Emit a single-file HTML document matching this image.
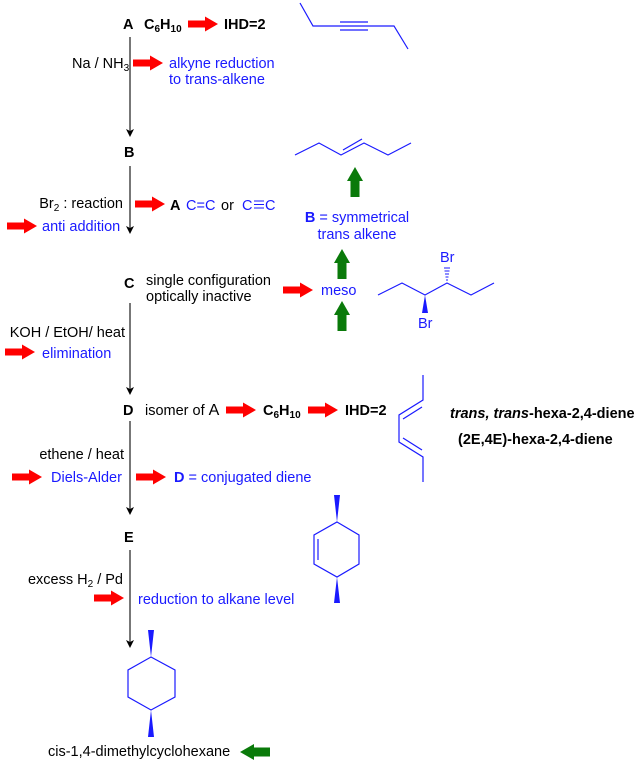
<!DOCTYPE html>
<html><head><meta charset="utf-8"><style>
html,body{margin:0;padding:0;background:#fff;}
svg{display:block;}
text{font-family:"Liberation Sans",Arial,sans-serif;font-size:14.5px;}
.k{fill:#000}.b{fill:#1a1aff}.bd{font-weight:bold}
</style></head><body>
<svg width="642" height="765" viewBox="0 0 642 765" xmlns="http://www.w3.org/2000/svg">
<defs>
<path id="ra" d="M0,-3.5 L17,-3.5 L17,-7.5 L30,0 L17,7.5 L17,3.5 L0,3.5 Z" fill="#ff0000"/>
<path id="ga" d="M0,-4.5 L16,-4.5 L16,-8 L30,0 L16,8 L16,4.5 L0,4.5 Z" fill="#0a7a0a"/>
</defs>
<g stroke="#777" stroke-width="2" fill="none">
<line x1="130" y1="37" x2="130" y2="132"/>
<line x1="130" y1="166" x2="130" y2="230"/>
<line x1="130" y1="303" x2="130" y2="390"/>
<line x1="130" y1="421" x2="130" y2="510"/>
<line x1="130" y1="550" x2="130" y2="642"/>
</g>
<g fill="#000">
<path d="M126,129 L130,137 L134,129 L130,131Z"/>
<path d="M126,226 L130,234 L134,226 L130,228Z"/>
<path d="M126,387 L130,395 L134,387 L130,389Z"/>
<path d="M126,507 L130,515 L134,507 L130,509Z"/>
<path d="M126,640 L130,648 L134,640 L130,642Z"/>
</g>
<!-- A -->
<text x="123" y="29" class="k bd" font-size="16">A</text>
<text x="144" y="29" class="k bd">C<tspan font-size="10" dy="3">6</tspan><tspan dy="-3">H</tspan><tspan font-size="10" dy="3">10</tspan></text>
<use href="#ra" x="188" y="24"/>
<text x="224" y="29" class="k bd">IHD=2</text>
<g stroke="#1a1aff" stroke-width="1.2" fill="none">
<polyline points="300,3 313,26 394,26 408,49"/>
<line x1="340" y1="22" x2="368" y2="22"/><line x1="340" y1="30" x2="368" y2="30"/>
</g>
<text x="72" y="68" class="k">Na / NH<tspan font-size="10" dy="3">3</tspan></text>
<use href="#ra" x="133" y="63"/>
<text x="169" y="68" class="b">alkyne reduction</text>
<text x="169" y="84" class="b">to trans-alkene</text>
<!-- B -->
<text x="124" y="157" class="k bd" font-size="16">B</text>
<g stroke="#1a1aff" stroke-width="1.2" fill="none">
<polyline points="295,155 319,143 341,155 364,143 388,155 411,143"/>
<line x1="343" y1="150" x2="362" y2="139"/>
</g>
<use href="#ga" transform="translate(355,197) rotate(-90)"/>
<text x="357" y="222" class="b" text-anchor="middle"><tspan class="bd">B</tspan> = symmetrical</text>
<text x="357" y="239" class="b" text-anchor="middle">trans alkene</text>
<text x="123" y="208" class="k" text-anchor="end">Br<tspan font-size="10" dy="3">2</tspan><tspan dy="-3"> : reaction</tspan></text>
<use href="#ra" x="135" y="204"/>
<text x="170" y="210" class="k bd" font-size="16">A</text>
<text x="186" y="210" class="b">C=C</text>
<text x="221" y="210" class="k">or</text>
<text x="242" y="210" class="b">C</text>
<g stroke="#1a1aff" stroke-width="1"><line x1="254" y1="201" x2="264" y2="201"/><line x1="254" y1="204.5" x2="264" y2="204.5"/><line x1="254" y1="208" x2="264" y2="208"/></g>
<text x="265" y="210" class="b">C</text>
<use href="#ra" x="7" y="226"/>
<text x="42" y="231" class="b">anti addition</text>
<!-- C -->
<text x="124" y="288" class="k bd" font-size="16">C</text>
<text x="146" y="285" class="k">single configuration</text>
<text x="146" y="301" class="k">optically inactive</text>
<use href="#ra" x="283" y="290"/>
<text x="321" y="295" class="b">meso</text>
<use href="#ga" transform="translate(342,279) rotate(-90)"/>
<use href="#ga" transform="translate(342,331) rotate(-90)"/>
<g stroke="#1a1aff" stroke-width="1.2" fill="none">
<polyline points="378,295 402,283 425,295 447,283 471,295 494,283"/>
</g>
<path d="M425,295 L422,313 L428,313Z" fill="#1a1aff"/>
<text x="418" y="328" class="b">Br</text>
<g stroke="#1a1aff" stroke-width="1">
<line x1="446" y1="280" x2="448" y2="280"/><line x1="445.5" y1="277" x2="448.5" y2="277"/><line x1="445" y1="274" x2="449" y2="274"/><line x1="444.5" y1="271" x2="449.5" y2="271"/><line x1="444" y1="268" x2="450" y2="268"/>
</g>
<text x="440" y="262" class="b">Br</text>
<text x="125" y="337" class="k" text-anchor="end">KOH / EtOH/ heat</text>
<use href="#ra" x="5" y="352"/>
<text x="42" y="358" class="b">elimination</text>
<!-- D -->
<text x="123" y="415" class="k bd" font-size="16">D</text>
<text x="145" y="415" class="k">isomer of <tspan font-size="16">A</tspan></text>
<use href="#ra" x="226" y="410"/>
<text x="263" y="415" class="k bd">C<tspan font-size="10" dy="3">6</tspan><tspan dy="-3">H</tspan><tspan font-size="10" dy="3">10</tspan></text>
<use href="#ra" x="308" y="410"/>
<text x="345" y="415" class="k bd">IHD=2</text>
<g stroke="#1a1aff" stroke-width="1.2" fill="none">
<polyline points="423,375 423,400 399,415 399,442 423,457 423,482"/>
<line x1="403" y1="419" x2="422" y2="407"/><line x1="403" y1="438" x2="422" y2="450"/>
</g>
<text x="450" y="418" class="k bd" font-size="14"><tspan font-style="italic">trans, trans</tspan>-hexa-2,4-diene</text>
<text x="458" y="444" class="k bd" font-size="14">(2E,4E)-hexa-2,4-diene</text>
<text x="124" y="459" class="k" text-anchor="end">ethene / heat</text>
<use href="#ra" x="12" y="477"/>
<text x="51" y="482" class="b">Diels-Alder</text>
<use href="#ra" x="136" y="477"/>
<text x="174" y="482" class="b"><tspan class="bd">D</tspan> = conjugated diene</text>
<!-- E -->
<text x="124" y="542" class="k bd" font-size="16">E</text>
<g stroke="#1a1aff" stroke-width="1.2" fill="none">
<polygon points="337,522 359,535 359,564 337,577 314,564 314,535"/>
<line x1="318" y1="539" x2="318" y2="560"/>
</g>
<path d="M337,522 L334,495 L340,495Z M337,577 L334,603 L340,603Z" fill="#1a1aff"/>
<text x="123" y="584" class="k" text-anchor="end">excess H<tspan font-size="10" dy="3">2</tspan><tspan dy="-3"> / Pd</tspan></text>
<use href="#ra" x="94" y="598"/>
<text x="138" y="604" class="b">reduction to alkane level</text>
<!-- final -->
<g stroke="#1a1aff" stroke-width="1.2" fill="none">
<polygon points="151,657 175,670 175,697 151,710 128,697 128,670"/>
</g>
<path d="M151,657 L148,630 L154,630Z M151,710 L148,737 L154,737Z" fill="#1a1aff"/>
<text x="48" y="756" class="k">cis-1,4-dimethylcyclohexane</text>
<use href="#ga" transform="translate(270,752) rotate(180)"/>
</svg>
</body></html>
